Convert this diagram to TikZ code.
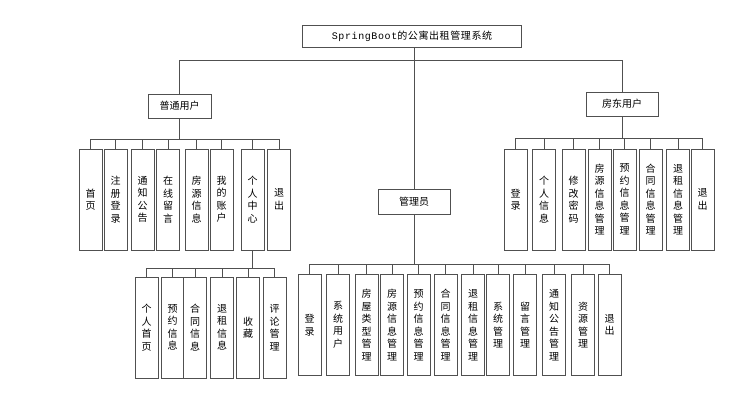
\documentclass[tikz,border=0pt]{standalone}
\usepackage{fontspec}
\setmainfont{Noto Sans CJK SC}
\newfontfamily\titlecjk[LetterSpace=6]{Noto Sans CJK SC}
\newfontfamily\titlelat[LetterSpace=6]{Liberation Mono}
\definecolor{lc}{RGB}{80,80,80}
\begin{document}
\begin{tikzpicture}[x=1pt,y=-1pt,
  ln/.style={draw=lc, line width=0.8pt},
  box/.style={draw=lc, line width=1pt, inner sep=0pt, align=center, fill=white,
    font=\fontsize{10}{12.5}\selectfont},
  leaf/.style={box, minimum width=23, minimum height=101},
  head/.style={box, minimum height=24}
]
\useasboundingbox (0,0) rectangle (742,402);
% top
\node[box, minimum width=219, minimum height=22] (root) at (412,36)
  {{\titlelat SpringBoot}{\titlecjk 的公寓出租管理系统}};
\node[head, minimum width=63] (pt) at (179.5,106) {普通用户};
\node[head, minimum width=72] (fd) at (622,104) {房东用户};
\node[head, minimum width=72, minimum height=25] (gl) at (414,201.5) {管理员};
% group A
\node[leaf] (a1) at (90.5,199.5) {首\\页};
\node[leaf] (a2) at (115.5,199.5) {注\\册\\登\\录};
\node[leaf] (a3) at (142.5,199.5) {通\\知\\公\\告};
\node[leaf] (a4) at (168,199.5) {在\\线\\留\\言};
\node[leaf] (a5) at (196.5,199.5) {房\\源\\信\\息};
\node[leaf] (a6) at (221.5,199.5) {我\\的\\账\\户};
\node[leaf] (a7) at (252.5,199.5) {个\\人\\中\\心};
\node[leaf] (a8) at (279,199.5) {退\\出};
% group B
\node[leaf] (b1) at (515.5,199.5) {登\\录};
\node[leaf] (b2) at (544,199.5) {个\\人\\信\\息};
\node[leaf] (b3) at (573.5,199.5) {修\\改\\密\\码};
\node[leaf] (b4) at (599.5,199.5) {房\\源\\信\\息\\管\\理};
\node[leaf] (b5) at (624.5,199.5) {预\\约\\信\\息\\管\\理};
\node[leaf] (b6) at (650.5,199.5) {合\\同\\信\\息\\管\\理};
\node[leaf] (b7) at (678,199.5) {退\\租\\信\\息\\管\\理};
\node[leaf] (b8) at (702.5,199.5) {退\\出};
% group C
\node[leaf] (c1) at (146.5,327.5) {个\\人\\首\\页};
\node[leaf] (c2) at (172.5,327.5) {预\\约\\信\\息};
\node[leaf] (c3) at (195,327.5) {合\\同\\信\\息};
\node[leaf] (c4) at (222,327.5) {退\\租\\信\\息};
\node[leaf] (c5) at (248,327.5) {收\\藏};
\node[leaf] (c6) at (274.5,327.5) {评\\论\\管\\理};
% group D
\node[leaf] (d1) at (309.5,325) {登\\录};
\node[leaf] (d2) at (338,325) {系\\统\\用\\户};
\node[leaf] (d3) at (366.5,325) {房\\屋\\类\\型\\管\\理};
\node[leaf] (d4) at (392,325) {房\\源\\信\\息\\管\\理};
\node[leaf] (d5) at (418.5,325) {预\\约\\信\\息\\管\\理};
\node[leaf] (d6) at (445.5,325) {合\\同\\信\\息\\管\\理};
\node[leaf] (d7) at (473,325) {退\\租\\信\\息\\管\\理};
\node[leaf] (d8) at (498,325) {系\\统\\管\\理};
\node[leaf] (d9) at (525,325) {留\\言\\管\\理};
\node[leaf] (d10) at (554,325) {通\\知\\公\\告\\管\\理};
\node[leaf] (d11) at (583,325) {资\\源\\管\\理};
\node[leaf] (d12) at (609.5,325) {退\\出};
% connectors
\draw[ln] (root.south -| gl.north) -- (gl.north);
\draw[ln] (root.south -| gl.north) -- ++(0,13) coordinate (rb);
\draw[ln] (rb) -| (pt.north);
\draw[ln] (rb) -| (fd.north);
\draw[ln] (pt.south) -- ++(0,21) coordinate (pb);
\foreach \n in {a1,a2,a3,a4,a5,a6,a7,a8} \draw[ln] (pb) -| (\n.north);
\draw[ln] (fd.south) -- ++(0,22) coordinate (fb);
\foreach \n in {b1,b2,b3,b4,b5,b6,b7,b8} \draw[ln] (fb) -| (\n.north);
\draw[ln] (a7.south) -- ++(0,17.5) coordinate (cb);
\foreach \n in {c1,c2,c3,c4,c5,c6} \draw[ln] (cb) -| (\n.north);
\draw[ln] (gl.south) -- ++(0,50) coordinate (gb);
\foreach \n in {d1,d2,d3,d4,d5,d6,d7,d8,d9,d10,d11,d12} \draw[ln] (gb) -| (\n.north);
\end{tikzpicture}
\end{document}
